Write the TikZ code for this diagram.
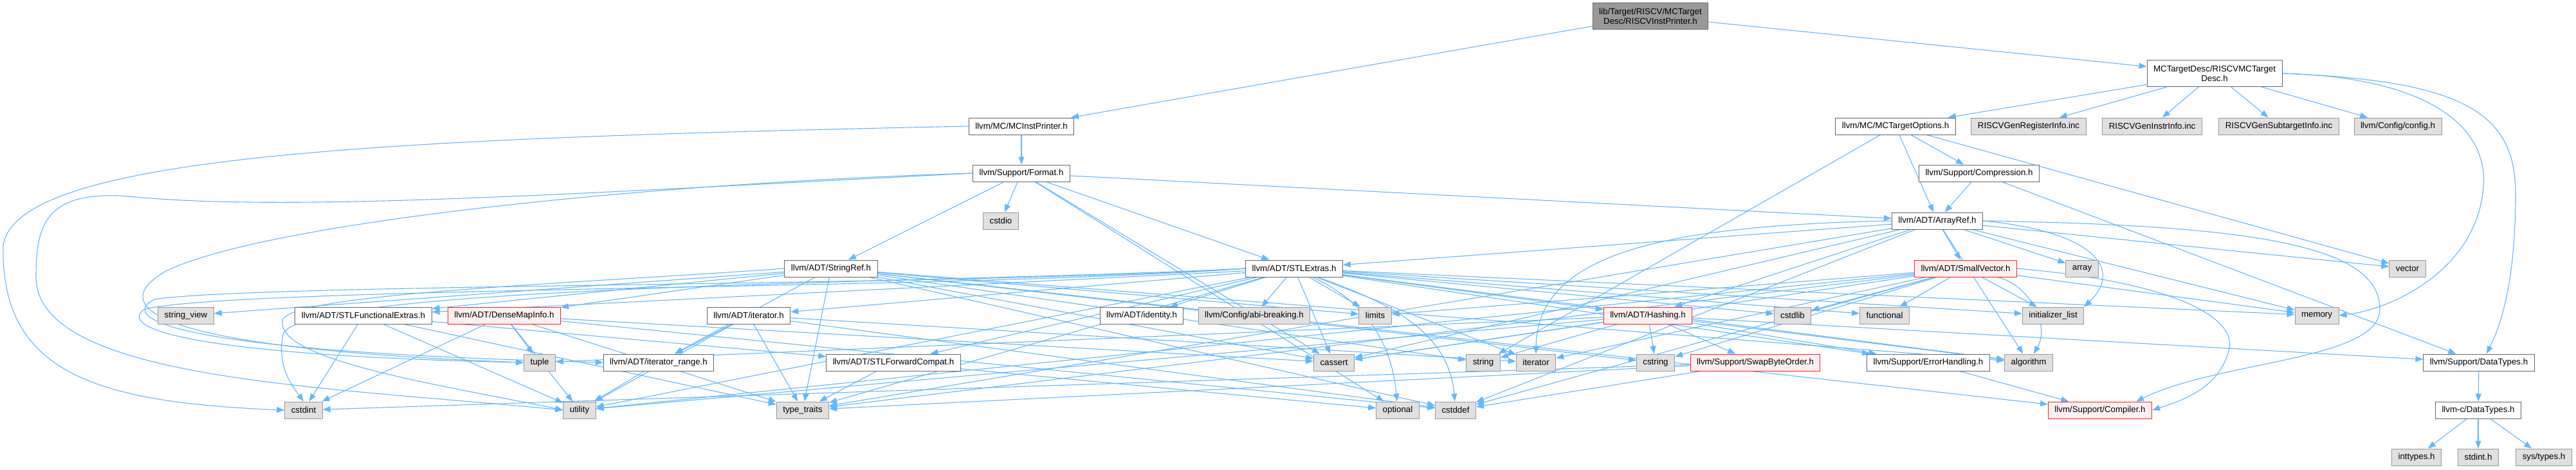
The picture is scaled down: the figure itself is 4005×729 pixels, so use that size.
\documentclass[tikz,border=0pt]{standalone}
\usepackage{fontspec}
\setmainfont{Liberation Sans}
\usetikzlibrary{arrows.meta,backgrounds}
\definecolor{edgeBlue}{RGB}{99,184,255}
\definecolor{boxLine}{RGB}{102,102,102}
\definecolor{sysLine}{RGB}{153,153,153}
\definecolor{sysFill}{RGB}{224,224,224}
\definecolor{rootFill}{RGB}{153,153,153}
\definecolor{cutLine}{RGB}{255,32,32}
\definecolor{cutFill}{RGB}{255,240,240}

\tikzset{
  fileBox/.style={draw=boxLine,fill=white,line width=1pt,minimum height=26pt,inner xsep=10pt,inner ysep=2pt,align=center,font=\fontsize{13.3}{15}\selectfont},
  sysBox/.style={fileBox,draw=sysLine,fill=sysFill},
  cutBox/.style={fileBox,draw=cutLine,fill=cutFill},
  rootBox/.style={fileBox,fill=rootFill,minimum height=41pt},
  incl/.style={draw=edgeBlue,line width=1.1pt,-{Triangle[length=12pt,width=9pt]}}
}

\begin{document}
\begin{tikzpicture}[x=1pt,y=-1pt]
\path[use as bounding box] (0,0) rectangle (4005,729);

% rows, top to bottom
\node[rootBox] (root) at (2566,25) {lib/Target/RISCV/MCTarget\\Desc/RISCVInstPrinter.h};
\node[fileBox,minimum height=41pt] (mcDesc) at (3443,114) {MCTargetDesc/RISCVMCTarget\\Desc.h};

\node[fileBox] (mcInst) at (1588,196) {llvm/MC/MCInstPrinter.h};
\node[fileBox] (mcOpts) at (2947,196) {llvm/MC/MCTargetOptions.h};
\node[sysBox] (genReg) at (3154,196) {RISCVGenRegisterInfo.inc};
\node[sysBox] (genInstr) at (3346,196) {RISCVGenInstrInfo.inc};
\node[sysBox] (genSub) at (3543,196) {RISCVGenSubtargetInfo.inc};
\node[sysBox] (config) at (3728,196) {llvm/Config/config.h};

\node[fileBox] (format) at (1588,269) {llvm/Support/Format.h};
\node[fileBox] (compress) at (3077,269) {llvm/Support/Compression.h};

\node[sysBox] (cstdio) at (1556,343) {cstdio};
\node[fileBox] (arrayRef) at (3012,343) {llvm/ADT/ArrayRef.h};

\node[fileBox] (stringRef) at (1292,417) {llvm/ADT/StringRef.h};
\node[fileBox] (stlExtras) at (2012,417) {llvm/ADT/STLExtras.h};
\node[cutBox] (smallVec) at (3056,417) {llvm/ADT/SmallVector.h};
\node[sysBox] (array) at (3237,417) {array};
\node[sysBox] (vector) at (3743,417) {vector};

\node[sysBox] (strView) at (289,490) {string\_view};
\node[fileBox] (stlFunc) at (565,490) {llvm/ADT/STLFunctionalExtras.h};
\node[cutBox] (denseMap) at (784,490) {llvm/ADT/DenseMapInfo.h};
\node[fileBox] (iterH) at (1164,490) {llvm/ADT/iterator.h};
\node[fileBox] (identity) at (1775,490) {llvm/ADT/identity.h};
\node[sysBox] (abiBreak) at (1950,490) {llvm/Config/abi-breaking.h};
\node[sysBox] (limits) at (2138,490) {limits};
\node[cutBox] (hashing) at (2562,490) {llvm/ADT/Hashing.h};
\node[sysBox] (cstdlib) at (2787,490) {cstdlib};
\node[sysBox] (functional) at (2930,490) {functional};
\node[sysBox] (initList) at (3192,490) {initializer\_list};
\node[sysBox] (memory) at (3602,490) {memory};

\node[sysBox] (tuple) at (839,563) {tuple};
\node[fileBox] (iterRange) at (1024,563) {llvm/ADT/iterator\_range.h};
\node[fileBox] (stlFwd) at (1389,563) {llvm/ADT/STLForwardCompat.h};
\node[sysBox] (cassert) at (2074,563) {cassert};
\node[sysBox] (string) at (2306,563) {string};
\node[sysBox] (iterator) at (2388,563) {iterator};
\node[sysBox] (cstring) at (2574,563) {cstring};
\node[cutBox] (swapByte) at (2729,563) {llvm/Support/SwapByteOrder.h};
\node[fileBox] (errHand) at (2998,563) {llvm/Support/ErrorHandling.h};
\node[sysBox] (algorithm) at (3154,563) {algorithm};
\node[fileBox] (dataTypes) at (3854,563) {llvm/Support/DataTypes.h};

\node[sysBox] (cstdint) at (472,637) {cstdint};
\node[sysBox] (utility) at (901,637) {utility};
\node[sysBox] (typeTraits) at (1248,637) {type\_traits};
\node[sysBox] (optional) at (2173,637) {optional};
\node[sysBox] (cstddef) at (2263,637) {cstddef};
\node[cutBox] (compiler) at (3265,637) {llvm/Support/Compiler.h};
\node[fileBox] (cDataTypes) at (3853,637) {llvm-c/DataTypes.h};

\node[sysBox] (inttypes) at (3757,710) {inttypes.h};
\node[sysBox] (stdint) at (3853,710) {stdint.h};
\node[sysBox] (sysTypes) at (3955,710) {sys/types.h};

\begin{scope}[on background layer,every edge/.style={incl}]
\fill[white] (0,0) rectangle (4005,729);
% include edges
\path (root) edge (mcInst) edge (mcDesc);
\path (mcInst) edge (format);
\draw[incl] (mcInst.west) .. controls (600,215) and (30,240) .. (5,380) .. controls (0,580) and (150,625) .. (cstdint.west);
\path (mcDesc) edge (mcOpts) edge (genReg) edge (genInstr) edge (genSub) edge (config);
\draw[incl] (mcDesc.east) .. controls (3780,120) and (3875,200) .. (3860,300) .. controls (3845,420) and (3720,480) .. (memory.east);
\draw[incl] (mcDesc.east) .. controls (3820,125) and (3911,170) .. (3911,300) .. controls (3911,460) and (3880,520) .. ([xshift=12pt]dataTypes.north);
\path (mcOpts) edge (arrayRef) edge (compress) edge (string) edge (vector);
\path (compress) edge (arrayRef) edge (dataTypes);

\path (format) edge (arrayRef) edge (stlExtras) edge (stringRef) edge (cassert) edge (cstdio) edge (optional);
\draw[incl] (format.west) .. controls (1000,285) and (420,345) .. (260,420) .. controls (170,470) and (200,540) .. (tuple.west);
\draw[incl] (format.west) .. controls (900,300) and (450,330) .. (200,305) .. controls (70,295) and (56,350) .. (56,430) .. controls (56,590) and (500,600) .. (utility.west);

\path (arrayRef) edge (hashing) edge (smallVec) edge (stlExtras) edge (algorithm) edge (array) edge (cassert) edge (cstddef) edge (memory) edge (typeTraits) edge (vector);
\draw[incl] (arrayRef.east) .. controls (3500,350) and (3700,380) .. (3700,480) .. controls (3700,560) and (3450,560) .. ([xshift=-25pt]compiler.north east);
\draw[incl] (arrayRef.east) .. controls (3260,360) and (3300,420) .. (initList.north east);
\draw[incl] (arrayRef.west) .. controls (2600,350) and (2390,390) .. (iterator.north);

\path (stringRef) edge (denseMap) edge (stlFunc) edge (iterRange) edge (compiler) edge (algorithm) edge (cassert) edge (cstddef) edge (cstring) edge (limits) edge (string) edge (strView) edge (typeTraits);
\draw[incl] (stringRef.west) .. controls (900,440) and (470,455) .. (440,495) .. controls (420,560) and (700,600) .. (utility.west);

\path (stlExtras) edge (hashing) edge (stlFwd) edge (stlFunc) edge (identity) edge (iterH) edge (abiBreak) edge (errHand) edge (algorithm) edge (cassert) edge (cstdlib) edge (functional) edge (initList) edge (iterator) edge (limits) edge (memory) edge (typeTraits) edge (utility) edge[out=-25,in=95] (optional) edge[out=-20,in=95] (cstddef);
\draw[incl] (stlExtras.west) .. controls (1500,445) and (400,440) .. (240,465) .. controls (190,490) and (230,545) .. (iterRange.west);
\draw[incl] (stlExtras.west) .. controls (1500,450) and (380,445) .. (225,480) .. controls (180,510) and (300,552) .. (tuple.west);
\draw[incl] (stlExtras.west) .. controls (1500,440) and (460,440) .. (440,520) .. controls (430,570) and (455,600) .. (cstdint.north);

\path (smallVec) edge (cassert) edge (cstddef) edge (cstdlib) edge (cstring) edge (functional) edge (initList) edge (iterator) edge (limits) edge (memory) edge (typeTraits) edge (utility) edge[out=-15,in=60] (algorithm);
\draw[incl] (smallVec.east) .. controls (3400,440) and (3480,500) .. (3465,545) .. controls (3450,600) and (3400,620) .. (compiler.east);

\path (stlFunc) edge (stlFwd) edge (cstdint) edge (typeTraits) edge (utility);
\path (denseMap) edge (cassert) edge (cstddef) edge (cstdint) edge (tuple) edge (typeTraits) edge (utility);
\path (iterH) edge (iterRange) edge (cstddef) edge (iterator) edge (typeTraits) edge (utility);
\path (iterRange) edge (utility);
\path (stlFwd) edge (optional) edge (typeTraits);
\path (hashing) edge (dataTypes) edge (errHand) edge (swapByte) edge (algorithm) edge (cassert) edge (cstring) edge (string) edge (tuple) edge (utility);
\path (swapByte) edge (cstddef) edge (cstdint) edge (typeTraits);
\path (errHand) edge (compiler);
\path (dataTypes) edge (cDataTypes);
\path (cDataTypes) edge (inttypes) edge (stdint) edge (sysTypes);
\end{scope}
\end{tikzpicture}
\end{document}
